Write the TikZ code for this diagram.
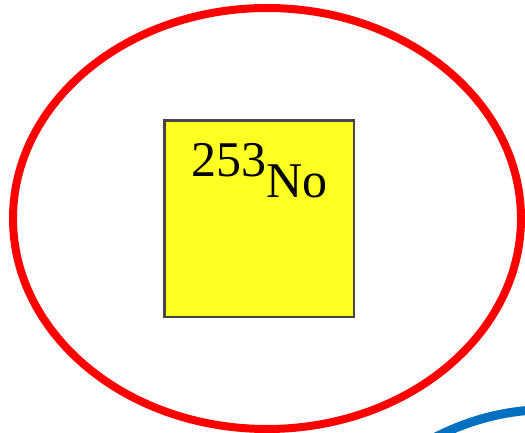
\documentclass[tikz,border=0pt]{standalone}
\usepackage{fontspec}
\setmainfont{Liberation Serif}
\usetikzlibrary{shapes.geometric}
\definecolor{ringred}{RGB}{255,0,0}
\definecolor{arcblue}{RGB}{0,112,192}
\definecolor{cellyellow}{RGB}{255,255,34}
\definecolor{cellborder}{RGB}{70,70,70}
\tikzset{
  ring/.style={ellipse, draw=ringred, line width=8pt, minimum width=508pt, minimum height=421pt, inner sep=0pt},
  cell/.style={rectangle, draw=cellborder, fill=cellyellow, line width=2.5pt, minimum width=189.5pt, minimum height=196.5pt, inner sep=0pt},
  isotope/.style={font=\fontsize{50}{60}\selectfont, inner sep=0pt, anchor=base west},
  bluearc/.style={draw=arcblue, line width=9pt}
}
\begin{document}
\begin{tikzpicture}[x=1pt,y=-1pt]
\useasboundingbox (0,0) rectangle (525,433);
\node[ring] (ring) at (267,218.5) {};
\node[cell] (cell) at (259.25,218.75) {};
\node[isotope] (label) at (191,176) {253\raisebox{-21pt}{No}};
\coordinate (arcstart) at (430,440);
\coordinate (arcend) at (535,410);
\draw[bluearc] (arcstart) .. controls (460,424) and (495,412) .. (arcend);
\end{tikzpicture}
\end{document}
